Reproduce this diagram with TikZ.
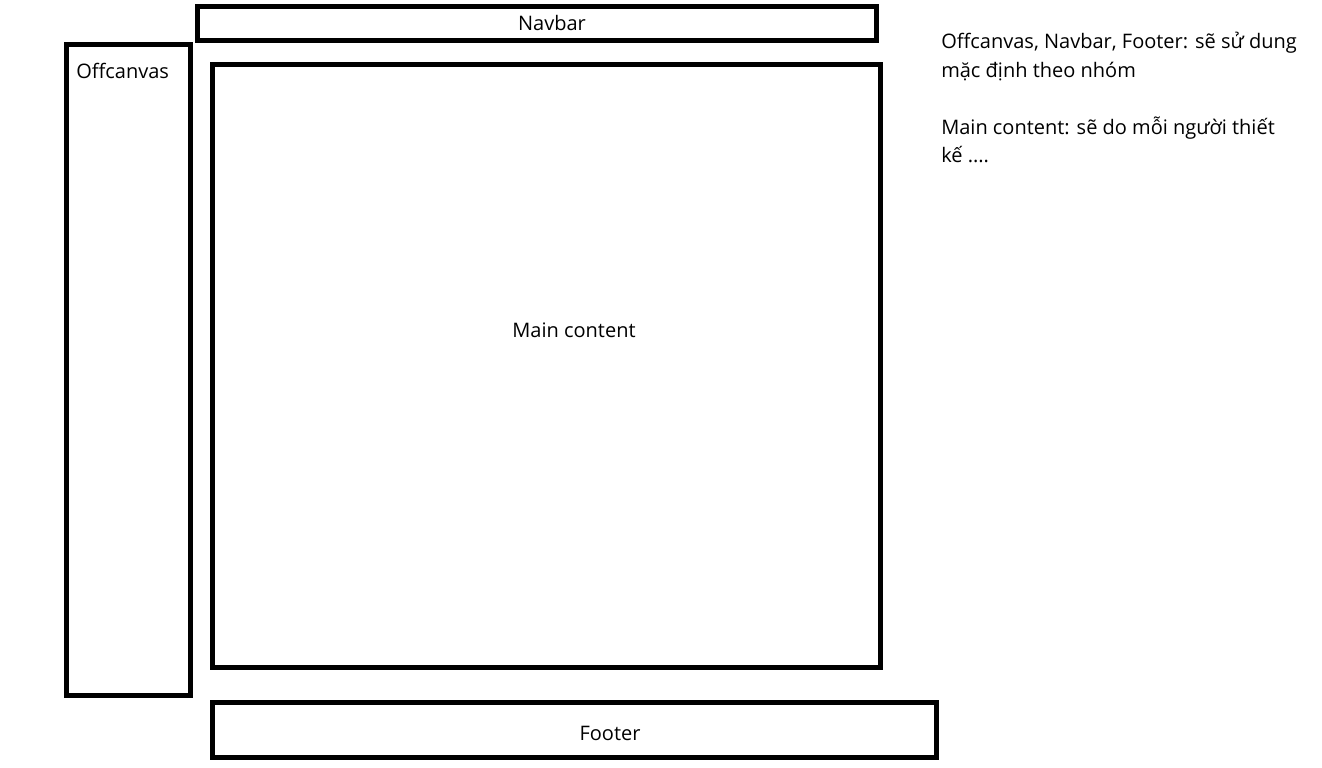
\documentclass[tikz,border=0pt]{standalone}
\usepackage{fontspec}
\setmainfont{Open Sans}
\usetikzlibrary{fit}
\begin{document}
\begin{tikzpicture}[x=0.75pt,y=-0.75pt,
  panel/.style={draw=black, line width=3.75pt, line join=miter, inner sep=0pt, fit=#1},
  lbl/.style={font=\fontsize{15}{20}\selectfont, inner sep=0pt},
  note/.style={font=\fontsize{15}{21.4}\selectfont, inner sep=0pt, anchor=base west}]
  \useasboundingbox (0,0) rectangle (1322,768);

  % layout regions
  \coordinate (nav1) at (197.5,6.5);   \coordinate (nav2) at (876.5,40.5);
  \coordinate (off1) at (66.5,44.5);   \coordinate (off2) at (190,695.5);
  \coordinate (main1) at (212.5,64.5); \coordinate (main2) at (880.5,667.5);
  \coordinate (foot1) at (212.5,702.5);\coordinate (foot2) at (936.5,757.5);

  \node[panel={(nav1)(nav2)}] (navbar) {};
  \node[panel={(off1)(off2)}] (offcanvas) {};
  \node[panel={(main1)(main2)}] (main) {};
  \node[panel={(foot1)(foot2)}] (footer) {};

  % region captions
  \node[lbl, anchor=base] (navlbl) at (552,30) {Navbar};
  \node[lbl, anchor=base west] (offlbl) at (76,78) {Offcanvas};
  \node[lbl, anchor=base] (mainlbl) at (574,337) {Main content};
  \node[lbl, anchor=base] (footlbl) at (610,740) {Footer};

  % notes
  \node[note] (n1) at (941,48) {Offcanvas, Navbar, Footer: sẽ sử dung};
  \node[note] (n2) at (941,77) {mặc định theo nhóm};
  \node[note] (n3) at (941,134) {Main content: sẽ do mỗi người thiết};
  \node[note] (n4) at (941,162) {kế ....};
\end{tikzpicture}
\end{document}
